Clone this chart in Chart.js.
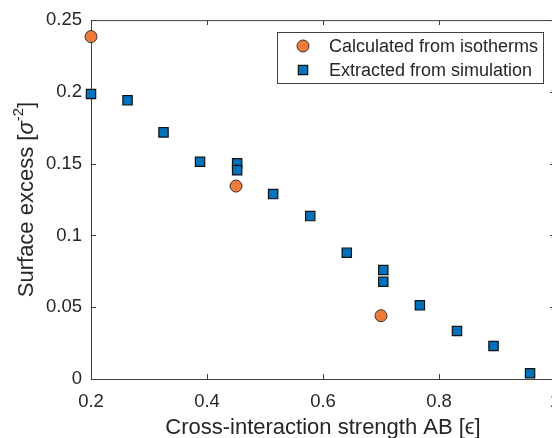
<!DOCTYPE html>
<html>
<head>
<meta charset="utf-8">
<script src="https://cdn.jsdelivr.net/npm/chart.js@4.4.0/dist/chart.umd.min.js"></script>
<style>
html, body { margin: 0; padding: 0; background: #fff; overflow: hidden; }
#wrap { width: 600px; height: 438px; }
</style>
</head>
<body>
<div id="wrap"><canvas id="c" width="600" height="438"></canvas></div>
<script>
// surface excess vs cross-interaction strength
const isoX = [0.2, 0.45, 0.7];
const isoY = [0.2385, 0.1344, 0.0441];
const simX = [0.2, 0.263, 0.325, 0.388, 0.452, 0.452, 0.514, 0.578, 0.641, 0.704, 0.704, 0.767, 0.831, 0.894, 0.957];
const simY = [0.1985, 0.1941, 0.1718, 0.1513, 0.1502, 0.1455, 0.1288, 0.1135, 0.0880, 0.0759, 0.0678, 0.0513, 0.0334, 0.0230, 0.0040];
const xTicks = [0.2, 0.4, 0.6, 0.8, 1];
const yTicks = [0, 0.05, 0.1, 0.15, 0.2, 0.25];
const seriesNames = ['Calculated from isotherms', 'Extracted from simulation'];
const xTitle = 'Cross-interaction strength AB [\u03f5]';

const FONT = "'Liberation Sans', Arial, Helvetica, sans-serif";
const ink = '#262626';
const orange = '#EE7B3A';
const blue = '#0072BD';

const pts = (xs, ys) => xs.map((v, i) => ({ x: v, y: ys[i] }));
const fmt = v => String(+v.toFixed(2));

const frame = {
    id: 'frame',
    beforeDatasetsDraw(chart) {
        const { ctx, chartArea: a, scales: { x, y } } = chart;
        ctx.save();
        ctx.strokeStyle = '#404040';
        ctx.lineWidth = 1;
        ctx.strokeRect(a.left + 0.5, a.top + 0.5, a.right - a.left, a.bottom - a.top);
        ctx.beginPath();
        xTicks.forEach(v => {
            const px = Math.round(x.getPixelForValue(v)) + 0.5;
            ctx.moveTo(px, a.bottom); ctx.lineTo(px, a.bottom - 5);
            ctx.moveTo(px, a.top); ctx.lineTo(px, a.top + 5);
        });
        yTicks.forEach(v => {
            const py = Math.round(y.getPixelForValue(v)) + 0.5;
            ctx.moveTo(a.left, py); ctx.lineTo(a.left + 5, py);
            ctx.moveTo(a.right, py); ctx.lineTo(a.right - 5, py);
        });
        ctx.stroke();
        ctx.restore();
    },
    afterDraw(chart) {
        const { ctx, chartArea: a } = chart;
        ctx.save();
        // legend box
        const lx = 277, ly = 32, lw = 266, lh = 51;
        ctx.fillStyle = '#fff';
        ctx.fillRect(lx, ly, lw, lh);
        ctx.strokeStyle = '#404040';
        ctx.lineWidth = 1;
        ctx.strokeRect(lx + 0.5, ly + 0.5, lw, lh);
        ctx.font = '18px ' + FONT;
        ctx.textBaseline = 'middle';
        ctx.textAlign = 'left';
        chart.data.datasets.forEach((ds, i) => {
            const cy = 46 + i * 24;
            ctx.fillStyle = ds.backgroundColor;
            ctx.strokeStyle = ds.borderColor;
            ctx.lineWidth = ds.borderWidth;
            Chart.helpers.drawPoint(ctx, { pointStyle: ds.pointStyle, radius: ds.pointRadius, rotation: 0, borderWidth: ds.borderWidth }, 303, cy);
            ctx.fillStyle = ink;
            ctx.fillText(seriesNames[i], 329, cy + 1);
        });
        // x title
        ctx.font = '22px ' + FONT;
        ctx.textAlign = 'center';
        ctx.textBaseline = 'alphabetic';
        ctx.fillStyle = ink;
        ctx.fillText(xTitle, (a.left + a.right) / 2, 434);
        // y title with superscript
        const parts = [
            { t: 'Surface excess [', f: '22px ' + FONT, dy: 0 },
            { t: '\u03c3', f: 'italic 22px ' + FONT, dy: 0 },
            { t: '-2', f: '15px ' + FONT, dy: -10 },
            { t: ']', f: '22px ' + FONT, dy: 0 }
        ];
        let total = 0;
        parts.forEach(p => { ctx.font = p.f; p.w = ctx.measureText(p.t).width; total += p.w; });
        ctx.translate(33, (a.top + a.bottom) / 2);
        ctx.rotate(-Math.PI / 2);
        ctx.textAlign = 'left';
        let cx = -total / 2;
        parts.forEach(p => {
            ctx.font = p.f;
            ctx.fillText(p.t, cx, p.dy);
            cx += p.w;
        });
        ctx.restore();
    }
};

new Chart(document.getElementById('c'), {
    type: 'scatter',
    data: {
        datasets: [
            {
                label: seriesNames[0],
                data: pts(isoX, isoY),
                pointStyle: 'circle',
                pointRadius: 6,
                backgroundColor: orange,
                borderColor: '#333',
                borderWidth: 1,
                clip: false
            },
            {
                label: seriesNames[1],
                data: pts(simX, simY),
                pointStyle: 'rect',
                pointRadius: 6.6,
                backgroundColor: blue,
                borderColor: '#111',
                borderWidth: 1.2,
                clip: false
            }
        ]
    },
    options: {
        responsive: false,
        animation: false,
        events: [],
        layout: { padding: { top: 20, right: 45, left: 0, bottom: 0 } },
        plugins: { legend: { display: false }, tooltip: { enabled: false } },
        scales: {
            x: {
                type: 'linear', min: 0.2, max: 1,
                afterBuildTicks: s => { s.ticks = xTicks.map(v => ({ value: v })); },
                afterFit: s => { s.height = 59; },
                ticks: { callback: fmt, color: ink, font: { family: FONT, size: 18.5 }, padding: 12, maxRotation: 0 },
                grid: { drawOnChartArea: false, drawTicks: false },
                border: { display: false }
            },
            y: {
                type: 'linear', min: 0, max: 0.25,
                afterBuildTicks: s => { s.ticks = yTicks.map(v => ({ value: v })); },
                afterFit: s => { s.width = 91; },
                ticks: { callback: fmt, color: ink, font: { family: FONT, size: 18.5 }, padding: 9 },
                grid: { drawOnChartArea: false, drawTicks: false },
                border: { display: false }
            }
        }
    },
    plugins: [frame]
});
</script>
</body>
</html>
